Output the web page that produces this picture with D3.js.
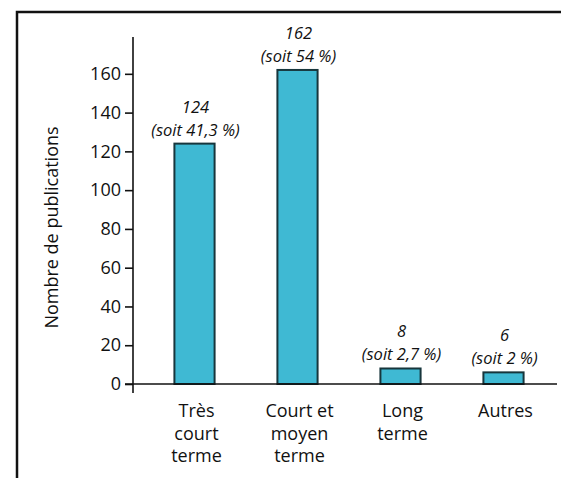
<!DOCTYPE html>
<html><head><meta charset="utf-8">
<script src="https://cdn.jsdelivr.net/npm/d3@7"></script>
<style>html,body{margin:0;padding:0;background:#fff;}svg{display:block;}</style>
</head><body>
<svg id="chart" width="561" height="478"></svg>
<script>
const categories = ["Très court terme", "Court et moyen terme", "Long terme", "Autres"];
const categoryLines = [["Très", "court", "terme"], ["Court et", "moyen", "terme"], ["Long", "terme"], ["Autres"]];
const values = [124, 162, 8, 6];
const valueLabels = ["124", "162", "8", "6"];
const shareLabels = ["(soit 41,3 %)", "(soit 54 %)", "(soit 2,7 %)", "(soit 2 %)"];
const yTicks = [0, 20, 40, 60, 80, 100, 120, 140, 160];
const yTitle = "Nombre de publications";

const svg = d3.select("#chart");
const font = "'Open Sans', 'Noto Sans', sans-serif";
const ink = "#111";

// frame
svg.append("path").attr("d", "M17,478V12H561").attr("fill", "none").attr("stroke", "#111").attr("stroke-width", 2.5);

const y = d3.scaleLinear().domain([0, 179]).range([384, 37]);
const x = d3.scaleBand().domain(categories).range([143, 555]).paddingInner(0.61).paddingOuter(0.305);
const axisX = 133;

// y axis
const yAxis = svg.append("g").attr("transform", `translate(${axisX},0)`)
  .call(d3.axisLeft(y).tickValues(yTicks).tickSize(8).tickPadding(4).tickFormat(d3.format("d")));
yAxis.select(".domain").remove();
yAxis.selectAll(".tick line").attr("stroke", ink).attr("stroke-width", 1.6);
yAxis.selectAll(".tick text").attr("fill", ink).style("font-family", font).style("font-size", "18px");
svg.append("line").attr("x1", axisX).attr("x2", axisX).attr("y1", y.range()[1]).attr("y2", y(0) + 9)
  .attr("stroke", ink).attr("stroke-width", 1.6);

// bars
svg.append("g").selectAll("rect").data(values).join("rect")
  .attr("x", (d, i) => x(categories[i]))
  .attr("y", d => y(d))
  .attr("width", x.bandwidth())
  .attr("height", d => y(0) - y(d))
  .attr("fill", "#3fb9d3")
  .attr("stroke", "#17363c")
  .attr("stroke-width", 2);

// x axis line
svg.append("line").attr("x1", axisX - 8).attr("x2", 557).attr("y1", y(0)).attr("y2", y(0))
  .attr("stroke", ink).attr("stroke-width", 1.6);

// value labels
const lab = svg.append("g").style("font-family", font).style("font-size", "16.5px").style("font-style", "italic")
  .attr("fill", ink).attr("text-anchor", "middle");
values.forEach((v, i) => {
  const cx = x(categories[i]) + x.bandwidth() / 2 + 1;
  lab.append("text").attr("x", cx).attr("y", y(v) - 31).text(valueLabels[i]);
  lab.append("text").attr("x", cx).attr("y", y(v) - 8).text(shareLabels[i]);
});

// category labels
const cat = svg.append("g").style("font-family", font).style("font-size", "18px").attr("fill", ink).attr("text-anchor", "middle");
categoryLines.forEach((lines, i) => {
  const cx = x(categories[i]) + x.bandwidth() / 2 + 2;
  const t = cat.append("text").attr("x", cx).attr("y", y(0) + 33);
  lines.forEach((l, j) => t.append("tspan").attr("x", cx).attr("dy", j === 0 ? 0 : 22.5).text(l));
});

// y title
svg.append("text").attr("transform", `translate(58,${(y(0) + y(179)) / 2 + 17}) rotate(-90)`)
  .attr("text-anchor", "middle").style("font-family", font).style("font-size", "18px").attr("fill", ink).text(yTitle);
</script>
</body></html>
